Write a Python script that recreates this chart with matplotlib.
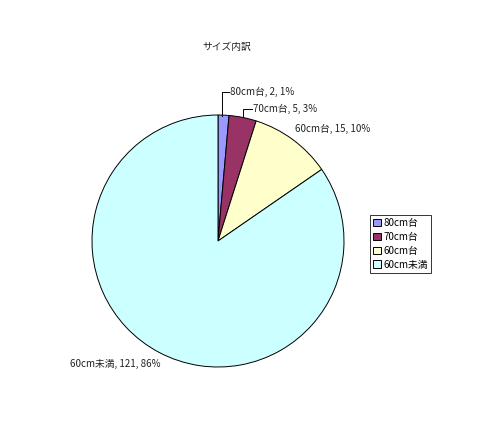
import matplotlib
matplotlib.use("Agg")
import matplotlib.pyplot as plt
import numpy as np

plt.rcParams['font.family'] = ['Noto Sans CJK JP', 'DejaVu Sans']

# data
sizes = ["80cm台", "70cm台", "60cm台", "60cm未満"]
counts = [2, 5, 15, 121]
percents = [1, 3, 10, 86]
colors = ["#9999FF", "#993366", "#FFFFCC", "#CCFFFF"]

fig = plt.figure(figsize=(4.8, 4.44), dpi=100)
fig.patch.set_facecolor("white")

# pie axes: center ~ (218, 241) px, radius ~126 px
cx, cy, r = 218, 241, 126
ax = fig.add_axes([(cx - r) / 480, (444 - cy - r) / 444, 2 * r / 480, 2 * r / 444])
wedges, _ = ax.pie(counts, colors=colors, startangle=90, counterclock=False,
                   wedgeprops=dict(edgecolor="black", linewidth=0.7))
ax.set_xlim(-1, 1)
ax.set_ylim(-1, 1)
ax.set_aspect("equal")

labels = [f"{s}, {c}, {p}%" for s, c, p in zip(sizes, counts, percents)]

# label positions in pixel coords (x, y from top)
def px(x, y):
    return ((x - cx) / r, (cy - y) / r)

# 80cm台 with elbow leader
x0, y0 = px(222, 116)
x1, y1 = px(222, 92)
x2, y2 = px(229, 92)
ax.plot([x0, x1, x2], [y0, y1, y2], color="black", lw=0.7, clip_on=False)
ax.text(*px(230, 92), labels[0], fontsize=7, va="center", ha="left", color="#222222")

# 70cm台 with elbow leader
x0, y0 = px(243, 117)
x1, y1 = px(243, 109)
x2, y2 = px(252, 109)
ax.plot([x0, x1, x2], [y0, y1, y2], color="black", lw=0.7, clip_on=False)
ax.text(*px(253, 109), labels[1], fontsize=7, va="center", ha="left", color="#222222")

ax.text(*px(295, 129), labels[2], fontsize=7, va="center", ha="left", color="#222222")
ax.text(*px(70, 364), labels[3], fontsize=7, va="center", ha="left", color="#222222")

fig.text(227 / 480, 1 - 47 / 444, "サイズ内訳", fontsize=7, ha="center", va="center", color="#222222")

leg = fig.legend(wedges, sizes, loc="upper left", bbox_to_anchor=(370 / 480, 1 - 215 / 444),
                 fontsize=7, frameon=True, fancybox=False, edgecolor="black",
                 handlelength=0.8, handleheight=0.8, handletextpad=0.3,
                 borderpad=0.3, labelspacing=0.4, borderaxespad=0)
leg.get_frame().set_linewidth(0.7)

fig.savefig("out.png", dpi=100, facecolor="white")
